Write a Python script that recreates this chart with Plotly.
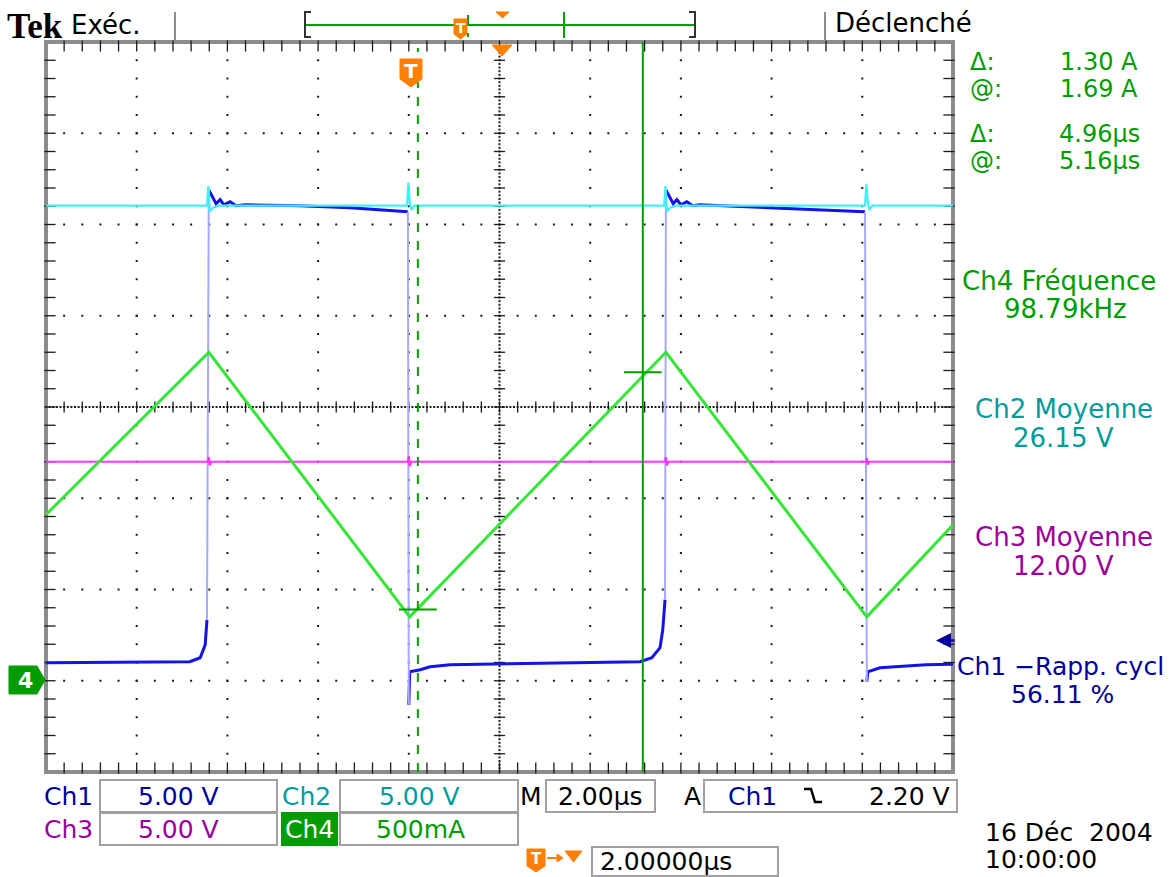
import numpy as np
import plotly.graph_objects as go

W, H = 1173, 877
PX0, PX1, PY0, PY1 = 46, 953, 42, 772   # graticule in pixels

T_RANGE = [-8.0, 12.0]     # µs, 2 µs/div, trigger at 0, delay 2 µs
V_RANGE = [-5.0, 35.0]     # Ch1-Ch3: 5 V/div, ground at -3 div
A_RANGE = [-0.5, 3.5]      # Ch4: 500 mA/div, ground at -3 div

# ---- Ch1 (switch voltage, V) ----
ch1_t = [-8.00, -4.83, -4.60, -4.49, -4.45, -4.41, -4.34, -4.25, -4.16, -4.08, -3.94, -3.81, -3.61,
         -2.40, -1.30, -0.19, -0.02, 0.00, 0.02, 0.25, 0.47, 0.91, 2.01, 4.22, 5.10, 5.36, 5.54,
         5.60, 5.65, 5.67, 5.74, 5.83, 5.91, 6.00, 6.13, 6.26, 6.42, 7.52, 8.62, 10.06, 10.10,
         10.12, 10.39, 10.83, 11.40, 12.00]
ch1_v = [0.99, 1.04, 1.26, 1.97, 3.34, 26.90, 26.58, 26.14, 26.36, 26.08, 26.25, 26.03, 26.08,
         26.03, 25.92, 25.75, 25.70, -1.32, 0.49, 0.60, 0.77, 0.88, 0.93, 0.99, 1.04, 1.26, 1.81,
         2.79, 4.44, 26.90, 26.58, 26.14, 26.36, 26.08, 26.25, 26.03, 26.08, 25.97, 25.86, 25.70, -0.05,
         0.49, 0.71, 0.80, 0.88, 0.90]
# ---- Ch2 (V) ----
ch2_t = [-8.00, -4.45, -4.42, -4.39, -4.33, -4.20, -0.04, -0.01, 0.02, 0.06, 0.12, 5.63, 5.66, 5.69,
         5.75, 5.88, 10.06, 10.09, 10.12, 10.16, 10.22, 12.00]
ch2_v = [26.03, 26.03, 27.10, 25.70, 25.90, 26.03, 26.03, 27.30, 26.20, 25.80, 26.03, 26.03, 27.10,
         25.70, 25.90, 26.03, 26.03, 27.20, 26.20, 25.80, 26.03, 26.03]
# ---- Ch3 (V) ----
ch3_t = [-8.00, -4.43, -4.41, -4.39, -4.36, -0.02, 0.00, 0.02, 0.05, 5.65, 5.67, 5.69, 5.72,
         10.08, 10.10, 10.12, 10.15, 12.00]
ch3_v = [12.00, 12.00, 12.25, 11.80, 12.00, 12.00, 12.30, 11.75, 12.00, 12.00, 12.25, 11.80, 12.00,
         12.00, 12.20, 11.85, 12.00, 12.00]
# ---- Ch4 (inductor current, A) ----
ch4_t = [-8.00, -4.41, 0.02, 5.67, 10.10, 12.00]
ch4_a = [0.91, 1.80, 0.35, 1.80, 0.35, 0.855]

cursor_t = [0.20, 5.16]
cursor_a = [0.39, 1.69]
trig_level_v = 2.20

C1, C1E, C1T = "#1414e6", "#a8a8ff", "#00009c"
C2, C2T = "#3ef0fa", "#009c9c"
C3, C3T = "#ff33ff", "#9c009c"
C4, C4T, CUR = "#36e636", "#009c00", "#00a000"
ORANGE = "#ff7f00"
FONT = "DejaVu Sans"


def X(px):
    return px / W


def Y(py):
    return 1 - py / H


def path(points, close=True):
    s = "M " + " L ".join(f"{X(a):.5f},{Y(b):.5f}" for a, b in points)
    return s + (" Z" if close else "")


fig = go.Figure()

# ---------- graticule ----------
dot = dict(symbol="square", size=2, color="#1a1a1a")
gx, gy = [], []
for tv in [-6, -4, -2, 0, 4, 6, 8, 10]:
    vs = np.arange(-4, 35, 1.0)
    gx += [tv] * len(vs); gy += list(vs)
for vv in [0, 5, 10, 20, 25, 30]:
    ts = np.arange(-7.6, 12, 0.4)
    gx += list(ts); gy += [vv] * len(ts)
vs = np.arange(-5, 35.01, 0.2)
gx += [2.0] * len(vs); gy += list(vs)
ts = np.arange(-8, 12.01, 0.08)
gx += list(ts); gy += [15.0] * len(ts)
fig.add_trace(go.Scatter(x=gx, y=gy, mode="markers", marker=dot, hoverinfo="skip"))

vt = np.arange(-4, 35, 1.0)
tt = np.arange(-7.6, 12, 0.4)
tick = dict(width=1.3, color="#1a1a1a")
fig.add_trace(go.Scatter(x=[2.0] * len(vt), y=vt, mode="markers", hoverinfo="skip",
                         marker=dict(symbol="line-ew", size=8, line=tick)))
fig.add_trace(go.Scatter(x=tt, y=[15.0] * len(tt), mode="markers", hoverinfo="skip",
                         marker=dict(symbol="line-ns", size=8, line=tick)))
dt_in = 4.0 / 45.35
dv_in = 4.0 / 18.25
fig.add_trace(go.Scatter(x=list(tt) + list(tt), y=[35.0 - dv_in] * len(tt) + [-5.0 + dv_in] * len(tt),
                         mode="markers", hoverinfo="skip", cliponaxis=False,
                         marker=dict(symbol="line-ns", size=8, line=tick)))
fig.add_trace(go.Scatter(x=[-8.0 + dt_in] * len(vt) + [12.0 - dt_in] * len(vt), y=list(vt) + list(vt),
                         mode="markers", hoverinfo="skip", cliponaxis=False,
                         marker=dict(symbol="line-ew", size=8, line=tick)))

# ---------- waveforms ----------
edge_x, edge_y, main_x, main_y = [], [], [], []
for i in range(len(ch1_t)):
    if i > 0 and abs(ch1_v[i] - ch1_v[i - 1]) > 2.0:
        edge_x += [ch1_t[i - 1], ch1_t[i], None]
        edge_y += [ch1_v[i - 1], ch1_v[i], None]
        main_x.append(None); main_y.append(None)
    main_x.append(ch1_t[i]); main_y.append(ch1_v[i])

fig.add_trace(go.Scatter(x=main_x, y=main_y, mode="lines", line=dict(color=C1, width=3), hoverinfo="skip"))
fig.add_trace(go.Scatter(x=edge_x, y=edge_y, mode="lines", line=dict(color=C1E, width=2), hoverinfo="skip"))
fig.add_trace(go.Scatter(x=ch2_t, y=ch2_v, mode="lines", line=dict(color=C2, width=2.2), hoverinfo="skip"))
fig.add_trace(go.Scatter(x=ch3_t, y=ch3_v, mode="lines", line=dict(color=C3, width=2.2), hoverinfo="skip"))
fig.add_trace(go.Scatter(x=ch4_t, y=ch4_a, yaxis="y2", mode="lines", line=dict(color=C4, width=3),
                         hoverinfo="skip"))
fig.add_trace(go.Scatter(x=cursor_t, y=cursor_a, yaxis="y2", mode="markers", hoverinfo="skip",
                         marker=dict(symbol="line-ew", size=27, line=dict(width=2, color=CUR))))

shapes = []
shapes.append(dict(type="line", xref="x", yref="paper", x0=cursor_t[0], x1=cursor_t[0],
                   y0=Y(PY1), y1=Y(PY0 + 6), line=dict(color=CUR, width=2, dash="dash")))
shapes.append(dict(type="line", xref="x", yref="paper", x0=cursor_t[1], x1=cursor_t[1],
                   y0=Y(PY1), y1=Y(PY0), line=dict(color=CUR, width=2)))
shapes.append(dict(type="rect", xref="paper", yref="paper", x0=X(PX0), x1=X(PX1), y0=Y(PY1), y1=Y(PY0),
                   line=dict(color="#8c8c8c", width=4), layer="below"))

for sx in (175, 825):
    shapes.append(dict(type="line", xref="paper", yref="paper", x0=X(sx), x1=X(sx), y0=Y(12), y1=Y(41),
                       line=dict(color="#8c8c8c", width=2)))
shapes.append(dict(type="line", xref="paper", yref="paper", x0=X(305), x1=X(694), y0=Y(25), y1=Y(25),
                   line=dict(color=CUR, width=2)))
shapes.append(dict(type="path", path=path([(311, 12), (305, 12), (305, 37), (311, 37)], False),
                   xref="paper", yref="paper", line=dict(color="#333333", width=2)))
shapes.append(dict(type="path", path=path([(689, 12), (695, 12), (695, 37), (689, 37)], False),
                   xref="paper", yref="paper", line=dict(color="#333333", width=2)))
shapes.append(dict(type="line", xref="paper", yref="paper", x0=X(564), x1=X(564), y0=Y(12), y1=Y(38),
                   line=dict(color=CUR, width=2)))
shapes.append(dict(type="line", xref="paper", yref="paper", x0=X(468), x1=X(468), y0=Y(15), y1=Y(37),
                   line=dict(color=CUR, width=2, dash="dash")))
shapes.append(dict(type="path", path=path([(454, 19), (467, 19), (467, 34), (460.5, 39), (454, 34)]),
                   xref="paper", yref="paper", fillcolor=ORANGE, line=dict(color=ORANGE, width=1)))
shapes.append(dict(type="path", path=path([(496, 12), (509, 12), (502.5, 18)]),
                   xref="paper", yref="paper", fillcolor=ORANGE, line=dict(color=ORANGE, width=1)))
shapes.append(dict(type="path", path=path([(400, 59), (422, 59), (422, 79), (411, 87), (400, 79)]),
                   xref="paper", yref="paper", fillcolor=ORANGE, line=dict(color=ORANGE, width=1)))
shapes.append(dict(type="path", path=path([(492, 45), (512, 45), (502, 56)]),
                   xref="paper", yref="paper", fillcolor=ORANGE, line=dict(color=ORANGE, width=1)))
shapes.append(dict(type="path", path=path([(9, 666), (37, 666), (45, 680), (37, 694), (9, 694)]),
                   xref="paper", yref="paper", fillcolor=C4T, line=dict(color=C4T, width=1)))


def box(x0, y0, x1, y1, fill=None, col="#a0a0a0"):
    return dict(type="rect", xref="paper", yref="paper", x0=X(x0), x1=X(x1), y0=Y(y1), y1=Y(y0),
                line=dict(color=col, width=2), fillcolor=fill)


shapes += [box(100, 780, 277, 812), box(340, 780, 518, 812), box(546, 780, 655, 812),
           box(704, 780, 957, 812), box(100, 813, 277, 845), box(340, 813, 518, 845),
           box(282, 813, 337, 845, fill=C4T, col=C4T), box(592, 847, 778, 876)]
shapes.append(dict(type="path", path=path([(804, 789), (811, 789), (815, 802), (822, 802)], False),
                   xref="paper", yref="paper", line=dict(color="#000000", width=2.5)))
shapes.append(dict(type="path", path=path([(527, 849), (545, 849), (545, 866), (536, 872), (527, 866)]),
                   xref="paper", yref="paper", fillcolor=ORANGE, line=dict(color=ORANGE, width=1)))
shapes.append(dict(type="line", xref="paper", yref="paper", x0=X(547), x1=X(560), y0=Y(858), y1=Y(858),
                   line=dict(color=ORANGE, width=2)))
shapes.append(dict(type="path", path=path([(557, 854), (563, 858), (557, 862)]),
                   xref="paper", yref="paper", fillcolor=ORANGE, line=dict(color=ORANGE, width=1)))
shapes.append(dict(type="path", path=path([(565, 851), (582, 851), (573.5, 862)]),
                   xref="paper", yref="paper", fillcolor=ORANGE, line=dict(color=ORANGE, width=1)))


def txt(s, px, py, color, size=25, anchor="left", family=FONT):
    return dict(text=s, x=X(px), y=Y(py), xref="paper", yref="paper", xanchor=anchor, yanchor="middle",
                showarrow=False, font=dict(family=family, size=size, color=color))


ann = [
    txt("<b>Tek</b>", 5, 26, "#000000", 35, family="Liberation Serif"),
    txt("Exéc.", 69, 25, "#000000", 26),
    txt("Déclenché", 833, 23, "#000000", 26),
    txt("<b>T</b>", 460.5, 28, "#ffffff", 14, "center"),
    txt("<b>T</b>", 411, 71, "#ffffff", 20, "center"),
    txt("<b>4</b>", 25, 680, "#ffffff", 22, "center"),
    txt("<b>T</b>", 536, 859, "#ffffff", 15, "center"),
    txt("Δ:", 968, 62, C4T, 24), txt("1.30 A", 1140, 62, C4T, 24, "right"),
    txt("@:", 968, 89, C4T, 24), txt("1.69 A", 1140, 89, C4T, 24, "right"),
    txt("Δ:", 968, 134, C4T, 24), txt("4.96µs", 1142, 134, C4T, 24, "right"),
    txt("@:", 968, 161, C4T, 24), txt("5.16µs", 1142, 161, C4T, 24, "right"),
    txt("Ch4 Fréquence", 1059, 281, C4T, 26, "center"), txt("98.79kHz", 1065, 309, C4T, 26, "center"),
    txt("Ch2 Moyenne", 1064, 409, C2T, 26, "center"), txt("26.15 V", 1063, 438, C2T, 26, "center"),
    txt("Ch3 Moyenne", 1064, 537, C3T, 26, "center"), txt("12.00 V", 1063, 566, C3T, 26, "center"),
    txt("Ch1 \u2212Rapp. cycl", 1166, 666, C1T, 25, "right"), txt("56.11 %", 1062, 694, C1T, 25, "center"),
    txt("Ch1", 42, 796, C1T, 25), txt("5.00 V", 178, 796, C1T, 25, "center"),
    txt("Ch2", 280, 796, C2T, 25), txt("5.00 V", 419, 796, C2T, 25, "center"),
    txt("M", 531, 796, "#000000", 25, "center"), txt("2.00µs", 600, 796, "#000000", 25, "center"),
    txt("A", 692, 796, "#000000", 25, "center"), txt("Ch1", 752, 796, C1T, 25, "center"),
    txt("2.20 V", 952, 796, "#000000", 25, "right"),
    txt("Ch3", 42, 829, C3T, 25), txt("5.00 V", 178, 829, C3T, 25, "center"),
    txt("Ch4", 309.5, 829, "#ffffff", 25, "center"), txt("500mA", 420, 829, C4T, 25, "center"),
    txt("2.00000µs", 598, 861, "#000000", 25),
    txt("16 Déc  2004", 983, 832, "#000000", 25), txt("10:00:00", 983, 859, "#000000", 25),
]
ann.append(dict(text="", x=X(936), y=trig_level_v, xref="paper", yref="y", showarrow=True, ax=20, ay=0,
                arrowhead=2, arrowsize=1.2, arrowwidth=2.5, arrowcolor=C1T))

fig.update_layout(
    width=W, height=H, margin=dict(l=0, r=0, t=0, b=0),
    paper_bgcolor="white", plot_bgcolor="white", showlegend=False,
    xaxis=dict(range=T_RANGE, domain=[X(PX0), X(PX1)], visible=False, fixedrange=True),
    yaxis=dict(range=V_RANGE, domain=[Y(PY1), Y(PY0)], visible=False, fixedrange=True),
    yaxis2=dict(range=A_RANGE, overlaying="y", visible=False, fixedrange=True),
    shapes=shapes, annotations=ann,
)

fig.write_html("out.html", config={"displayModeBar": False},
               post_script="document.body.style.margin='0';document.body.style.overflow='hidden';")
